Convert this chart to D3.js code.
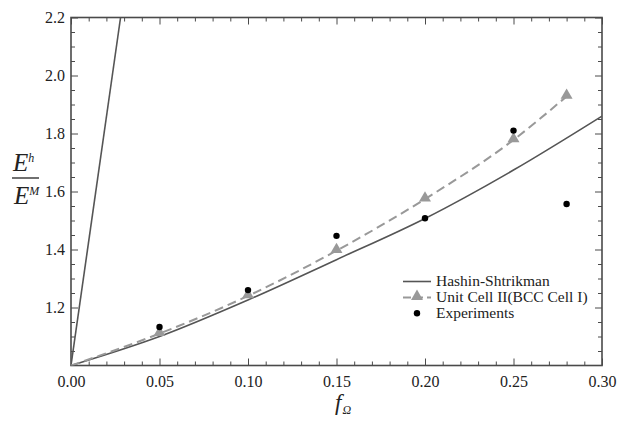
<!DOCTYPE html>
<html>
<head>
<meta charset="utf-8">
<script src="https://cdn.jsdelivr.net/npm/d3@7"></script>
<style>
  html, body { margin: 0; padding: 0; background: #fff; }
  svg { display: block; font-family: "Liberation Serif", "Times New Roman", serif; }
</style>
</head>
<body>
<svg id="chart" width="627" height="421"></svg>
<script>
// Volume fraction of inclusions and normalised effective modulus E^h / E^M
const hsFractions = [0, 0.05, 0.10, 0.15, 0.20, 0.25, 0.30];
const hsLower = [1.0, 1.10, 1.226, 1.365, 1.507, 1.674, 1.86];
const hsUpperFractions = [0, 0.028];
const hsUpper = [1.0, 2.2];
const cellFractions = [0, 0.05, 0.10, 0.15, 0.20, 0.25, 0.28];
const cellValues = [1.0, 1.11, 1.24, 1.396, 1.574, 1.778, 1.928];
const expFractions = [0.05, 0.10, 0.15, 0.20, 0.25, 0.28];
const expValues = [1.133, 1.26, 1.447, 1.508, 1.81, 1.557];
const xTicks = [0, 0.05, 0.10, 0.15, 0.20, 0.25, 0.30];
const yTicks = [1.2, 1.4, 1.6, 1.8, 2.0, 2.2];
const legendLabels = ["Hashin-Shtrikman", "Unit Cell II(BCC Cell I)", "Experiments"];

const svg = d3.select("#chart");
const plotLeft = 71, plotRight = 602, plotTop = 17.5, plotBottom = 365.5;

const x = d3.scaleLinear().domain([0, 0.30]).range([plotLeft, plotRight]);
const y = d3.scaleLinear().domain([1.0, 2.2]).range([plotBottom, plotTop]);

const axisColor = "#4a4a4a";
const serif = "'Liberation Serif', 'Times New Roman', serif";
const xMinor = d3.range(0, 31).map(i => i / 100).filter(v => Math.round(v * 100) % 5 !== 0);
const yMinor = d3.range(20, 45).map(i => i / 20).filter(v => Math.round(v * 20) % 4 !== 0);

function styleAxis(g) {
  g.attr("font-family", serif);
  g.select(".domain").remove();
  g.selectAll(".tick line").attr("stroke", axisColor).attr("stroke-width", 1);
  g.selectAll(".tick text")
    .attr("fill", "#222")
    .style("font-size", "16px")
    .style("font-family", serif);
}

// bottom axis: labels and inward ticks
svg.append("g").attr("transform", `translate(0,${plotBottom})`)
  .call(d3.axisBottom(x).tickValues(xTicks).tickFormat(d3.format(".2f")).tickSize(-7).tickPadding(10))
  .call(styleAxis);
svg.append("g").attr("transform", `translate(0,${plotBottom})`)
  .call(d3.axisBottom(x).tickValues(xMinor).tickFormat("").tickSize(-4))
  .call(styleAxis);
// top axis: ticks only
svg.append("g").attr("transform", `translate(0,${plotTop})`)
  .call(d3.axisTop(x).tickValues(xTicks).tickFormat("").tickSize(-7))
  .call(styleAxis);
svg.append("g").attr("transform", `translate(0,${plotTop})`)
  .call(d3.axisTop(x).tickValues(xMinor).tickFormat("").tickSize(-4))
  .call(styleAxis);
// left axis
svg.append("g").attr("transform", `translate(${plotLeft},0)`)
  .call(d3.axisLeft(y).tickValues(yTicks).tickFormat(d3.format(".1f")).tickSize(-7).tickPadding(6))
  .call(styleAxis);
svg.append("g").attr("transform", `translate(${plotLeft},0)`)
  .call(d3.axisLeft(y).tickValues(yMinor).tickFormat("").tickSize(-4))
  .call(styleAxis);
// right axis: ticks only
svg.append("g").attr("transform", `translate(${plotRight},0)`)
  .call(d3.axisRight(y).tickValues(yTicks).tickFormat("").tickSize(-7))
  .call(styleAxis);
svg.append("g").attr("transform", `translate(${plotRight},0)`)
  .call(d3.axisRight(y).tickValues(yMinor).tickFormat("").tickSize(-4))
  .call(styleAxis);

// plot frame
svg.append("rect")
  .attr("x", plotLeft).attr("y", plotTop)
  .attr("width", plotRight - plotLeft).attr("height", plotBottom - plotTop)
  .attr("fill", "none").attr("stroke", axisColor).attr("stroke-width", 1.6);

svg.append("clipPath").attr("id", "plot-clip")
  .append("rect").attr("x", plotLeft).attr("y", plotTop)
  .attr("width", plotRight - plotLeft).attr("height", plotBottom - plotTop);

const plot = svg.append("g").attr("clip-path", "url(#plot-clip)");

const lineCurve = d3.line().x(d => x(d[0])).y(d => y(d[1])).curve(d3.curveMonotoneX);
const lineStraight = d3.line().x(d => x(d[0])).y(d => y(d[1]));

// Hashin-Shtrikman bounds
plot.append("path")
  .datum(hsFractions.map((f, i) => [f, hsLower[i]]))
  .attr("d", lineCurve)
  .attr("fill", "none").attr("stroke", "#555").attr("stroke-width", 1.6);
plot.append("path")
  .datum(hsUpperFractions.map((f, i) => [f, hsUpper[i]]))
  .attr("d", lineStraight)
  .attr("fill", "none").attr("stroke", "#555").attr("stroke-width", 1.6);

// unit cell model
const cellData = cellFractions.map((f, i) => [f, cellValues[i]]);
plot.append("path")
  .datum(cellData)
  .attr("d", lineCurve)
  .attr("fill", "none").attr("stroke", "#999").attr("stroke-width", 2)
  .attr("stroke-dasharray", "9,5");

const tri = d3.symbol().type(d3.symbolTriangle).size(62);
svg.append("g").selectAll("path")
  .data(cellData.filter(d => d[0] > 0))
  .join("path")
  .attr("d", tri)
  .attr("transform", d => `translate(${x(d[0])},${y(d[1]) - 1})`)
  .attr("fill", "#999");

// experiments
svg.append("g").selectAll("circle")
  .data(expFractions.map((f, i) => [f, expValues[i]]))
  .join("circle")
  .attr("cx", d => x(d[0])).attr("cy", d => y(d[1]))
  .attr("r", 3.2).attr("fill", "#000");

// legend
const legend = svg.append("g").style("font-size", "15.5px").style("font-family", serif).attr("fill", "#222");
const lx0 = 403, lx1 = 431, ltx = 436;
const rows = [281.5, 297.5, 313.3];
legend.append("line").attr("x1", lx0).attr("x2", lx1).attr("y1", rows[0]).attr("y2", rows[0])
  .attr("stroke", "#555").attr("stroke-width", 1.6);
legend.append("line").attr("x1", lx0).attr("x2", lx1).attr("y1", rows[1]).attr("y2", rows[1])
  .attr("stroke", "#999").attr("stroke-width", 2).attr("stroke-dasharray", "8,4");
legend.append("path").attr("d", tri).attr("transform", `translate(${(lx0 + lx1) / 2},${rows[1] - 1})`).attr("fill", "#999");
legend.append("circle").attr("cx", (lx0 + lx1) / 2).attr("cy", rows[2]).attr("r", 3.2).attr("fill", "#000");
legendLabels.forEach((t, i) => {
  legend.append("text").attr("x", ltx).attr("y", rows[i] + 4.5).text(t);
});

// axis titles
const xt = svg.append("text").attr("x", 335).attr("y", 410).attr("fill", "#222")
  .style("font-style", "italic").style("font-family", serif);
xt.append("tspan").style("font-size", "23px").text("f");
xt.append("tspan").style("font-size", "12px").attr("dx", "1").attr("dy", "4").text("Ω");

const yt = svg.append("g").attr("fill", "#222").style("font-style", "italic").style("font-family", serif);
const num = yt.append("text").attr("x", 13).attr("y", 171);
num.append("tspan").style("font-size", "25px").text("E");
num.append("tspan").style("font-size", "12px").attr("dy", "-9").text("h");
svg.append("line").attr("x1", 12).attr("x2", 39).attr("y1", 178).attr("y2", 178)
  .attr("stroke", "#222").attr("stroke-width", 1.3);
const den = yt.append("text").attr("x", 14).attr("y", 204);
den.append("tspan").style("font-size", "25px").text("E");
den.append("tspan").style("font-size", "12px").attr("dy", "-9").text("M");
</script>
</body>
</html>
